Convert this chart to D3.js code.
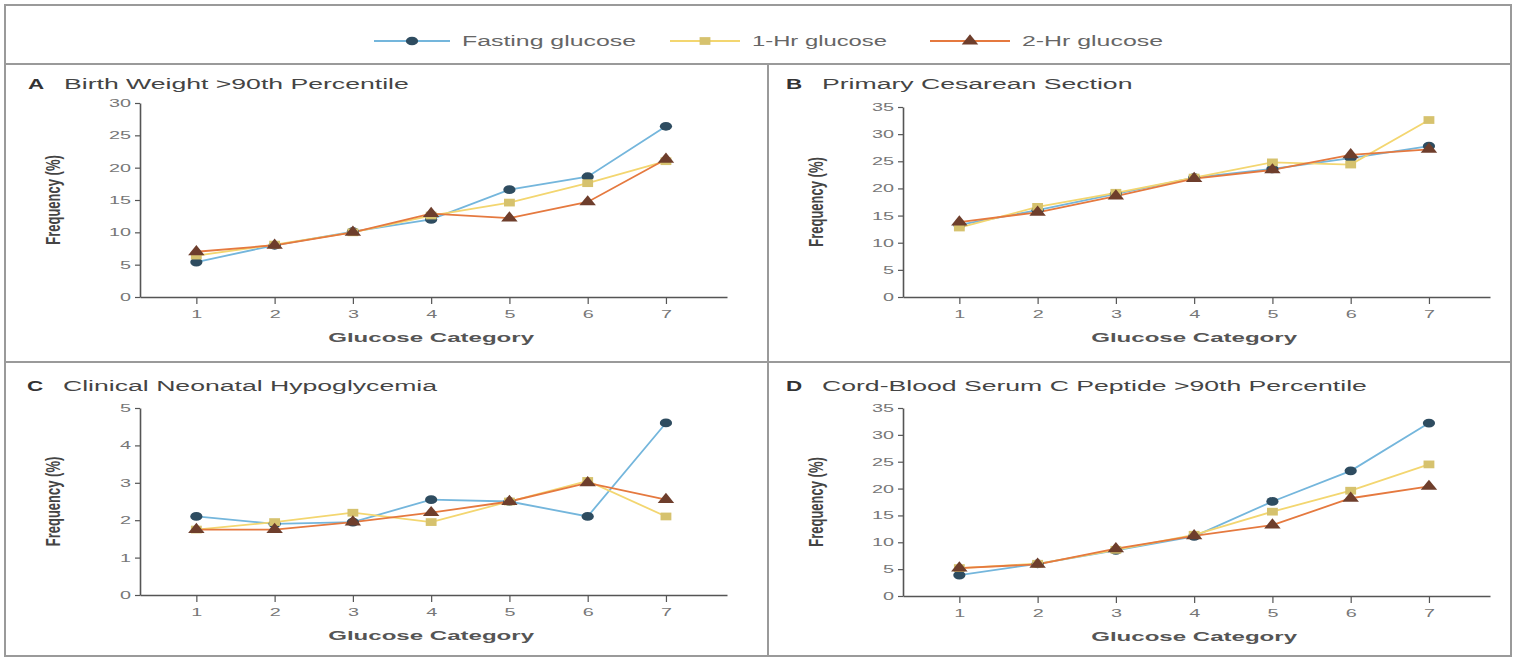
<!DOCTYPE html>
<html>
<head>
<meta charset="utf-8">
<script src="https://cdn.jsdelivr.net/npm/d3@7"></script>
<style>
  body { margin: 0; background: #fff; }
  svg { display: block; font-family: "Liberation Sans", Arial, sans-serif; }
</style>
</head>
<body>
<div id="chart"></div>
<script>
// Glucose categories on the x axis
const categories = [1, 2, 3, 4, 5, 6, 7];

const seriesNames = ['Fasting glucose', '1-Hr glucose', '2-Hr glucose'];

// A: birth weight >90th percentile (%)
const birthWeightFasting = [5.4, 8.0, 10.1, 12.0, 16.6, 18.6, 26.4];
const birthWeight1h = [6.4, 8.1, 10.0, 12.6, 14.6, 17.6, 21.0];
const birthWeight2h = [7.0, 8.0, 10.0, 12.9, 12.2, 14.7, 21.3];

// B: primary cesarean section (%)
const cesareanFasting = [13.3, 16.0, 19.0, 22.0, 23.6, 25.6, 27.8];
const cesarean1h = [12.8, 16.6, 19.2, 22.0, 24.8, 24.4, 32.6];
const cesarean2h = [13.8, 15.6, 18.6, 21.8, 23.4, 26.2, 27.2];

// C: clinical neonatal hypoglycemia (%)
const hypoFasting = [2.1, 1.9, 1.95, 2.55, 2.5, 2.1, 4.6];
const hypo1h = [1.75, 1.95, 2.2, 1.95, 2.5, 3.05, 2.1];
const hypo2h = [1.75, 1.75, 1.95, 2.2, 2.5, 3.0, 2.55];

// D: cord-blood serum C peptide >90th percentile (%)
const cpeptideFasting = [3.9, 6.0, 8.5, 11.1, 17.6, 23.3, 32.2];
const cpeptide1h = [5.2, 6.0, 8.6, 11.4, 15.7, 19.6, 24.5];
const cpeptide2h = [5.2, 5.9, 8.8, 11.2, 13.2, 18.2, 20.4];

// y tick labels per panel
const ticksA = [0, 5, 10, 15, 20, 25, 30];
const ticksB = [0, 5, 10, 15, 20, 25, 30, 35];
const ticksC = [0, 1, 2, 3, 4, 5];
const ticksD = [0, 5, 10, 15, 20, 25, 30, 35];

const width = 1513, height = 660;

const lineColors = ['#74b6dc', '#f3d670', '#e5793f'];
const markerColors = ['#2e4c60', '#d6c26e', '#6e3e2c'];
const markerShapes = [d3.symbolCircle, d3.symbolSquare, d3.symbolTriangle];

// the reference figure is stretched sideways, so text is widened to match
const STRETCH = 1.8;
function stretch(sel, factor) {
    sel.each(function () {
        const w = this.getComputedTextLength();
        d3.select(this).attr('textLength', w * factor).attr('lengthAdjust', 'spacingAndGlyphs');
    });
}

const panels = [
    { letter: 'A', title: 'Birth Weight >90th Percentile', series: [birthWeightFasting, birthWeight1h, birthWeight2h], ticks: ticksA, x0: 140, y0: 297, y1: 103, titleX: 28, titleY: 89 },
    { letter: 'B', title: 'Primary Cesarean Section', series: [cesareanFasting, cesarean1h, cesarean2h], ticks: ticksB, x0: 903, y0: 297, y1: 107, titleX: 786, titleY: 89 },
    { letter: 'C', title: 'Clinical Neonatal Hypoglycemia', series: [hypoFasting, hypo1h, hypo2h], ticks: ticksC, x0: 140, y0: 595, y1: 408, titleX: 27, titleY: 391 },
    { letter: 'D', title: 'Cord-Blood Serum C Peptide >90th Percentile', series: [cpeptideFasting, cpeptide1h, cpeptide2h], ticks: ticksD, x0: 903, y0: 596, y1: 408, titleX: 786, titleY: 391 }
];

const svg = d3.select('#chart').append('svg')
    .attr('width', width)
    .attr('height', height);

// Frame and dividers
const frame = svg.append('g').attr('stroke', '#9a9a9a').attr('stroke-width', 2).attr('fill', 'none');
frame.append('rect').attr('x', 5).attr('y', 5).attr('width', 1506).attr('height', 651);
frame.append('line').attr('x1', 5).attr('x2', 1511).attr('y1', 64).attr('y2', 64);
frame.append('line').attr('x1', 5).attr('x2', 1511).attr('y1', 362).attr('y2', 362);
frame.append('line').attr('x1', 768).attr('x2', 768).attr('y1', 64).attr('y2', 656);

// Legend
const legendX = [374, 670, 930];
const legendLen = [76, 70, 80];
const legendText = [174, 135, 141];
const legend = svg.append('g').attr('class', 'legend');
seriesNames.forEach((name, i) => {
    const g = legend.append('g').attr('transform', `translate(${legendX[i]},41)`);
    g.append('line').attr('x1', 0).attr('x2', legendLen[i]).attr('y1', 0).attr('y2', 0)
        .attr('stroke', lineColors[i]).attr('stroke-width', 2);
    g.append('path').attr('transform', `translate(${legendLen[i] / 2},0) scale(1.4,1)`)
        .attr('d', d3.symbol().type(markerShapes[i]).size(60))
        .attr('fill', markerColors[i]);
    g.append('text').attr('x', legendLen[i] + 12).attr('y', 5)
        .attr('font-size', 14).attr('fill', '#666')
        .attr('textLength', legendText[i]).attr('lengthAdjust', 'spacingAndGlyphs')
        .text(name);
});

panels.forEach(p => {
    const g = svg.append('g');

    const x = d3.scaleLinear().domain([0.28, 7.78]).range([p.x0, p.x0 + 587]);
    const yMax = p.ticks[p.ticks.length - 1];
    const y = d3.scaleLinear().domain([0, yMax]).range([p.y0, p.y1]);

    // Title
    g.append('text').attr('x', p.titleX).attr('y', p.titleY)
        .attr('font-size', 14).attr('font-weight', 'bold').attr('fill', '#333')
        .text(p.letter)
        .call(stretch, 1.6);
    g.append('text').attr('x', p.titleX + 36).attr('y', p.titleY)
        .attr('font-size', 14).attr('fill', '#444')
        .text(p.title)
        .call(stretch, 1.9);

    // Axes
    const xAxis = g.append('g').attr('transform', `translate(0,${p.y0})`)
        .call(d3.axisBottom(x).tickValues(categories).tickSize(7).tickSizeOuter(0).tickPadding(6));
    const yAxis = g.append('g').attr('transform', `translate(${p.x0},0)`)
        .call(d3.axisLeft(y).tickValues(p.ticks).tickFormat(d3.format('d')).tickSize(5).tickSizeOuter(0).tickPadding(4));

    [xAxis, yAxis].forEach(ax => {
        ax.select('.domain').attr('stroke', '#555').attr('stroke-width', 1.6);
        ax.selectAll('.tick line').attr('stroke', '#555').attr('stroke-width', 1.2);
        ax.selectAll('.tick text').attr('fill', '#777').attr('font-size', 11)
            .attr('font-family', '"Liberation Sans", Arial, sans-serif')
            .call(stretch, STRETCH);
    });

    // Axis labels
    g.append('text')
        .attr('x', (x(1) + x(7)) / 2).attr('y', p.y0 + 45)
        .attr('text-anchor', 'middle').attr('font-size', 13).attr('font-weight', 'bold')
        .attr('fill', '#555').text('Glucose Category')
        .call(stretch, 1.85);
    g.append('text')
        .attr('transform', `translate(${p.x0 - 80},${(p.y0 + p.y1) / 2}) rotate(-90) scale(1,1.5)`)
        .attr('text-anchor', 'middle').attr('font-size', 13).attr('font-weight', 'bold')
        .attr('fill', '#444').text('Frequency (%)');

    // Lines and markers
    const line = d3.line().x((d, i) => x(categories[i])).y(d => y(d));
    p.series.forEach((values, s) => {
        g.append('path').datum(values)
            .attr('d', line)
            .attr('fill', 'none')
            .attr('stroke', lineColors[s])
            .attr('stroke-width', 1.8);
    });
    p.series.forEach((values, s) => {
        g.append('g').selectAll('path')
            .data(values)
            .enter().append('path')
            .attr('transform', (d, i) => `translate(${x(categories[i])},${y(d)}) scale(1.4,1)`)
            .attr('d', d3.symbol().type(markerShapes[s]).size(60))
            .attr('fill', markerColors[s]);
    });
});
</script>
</body>
</html>
